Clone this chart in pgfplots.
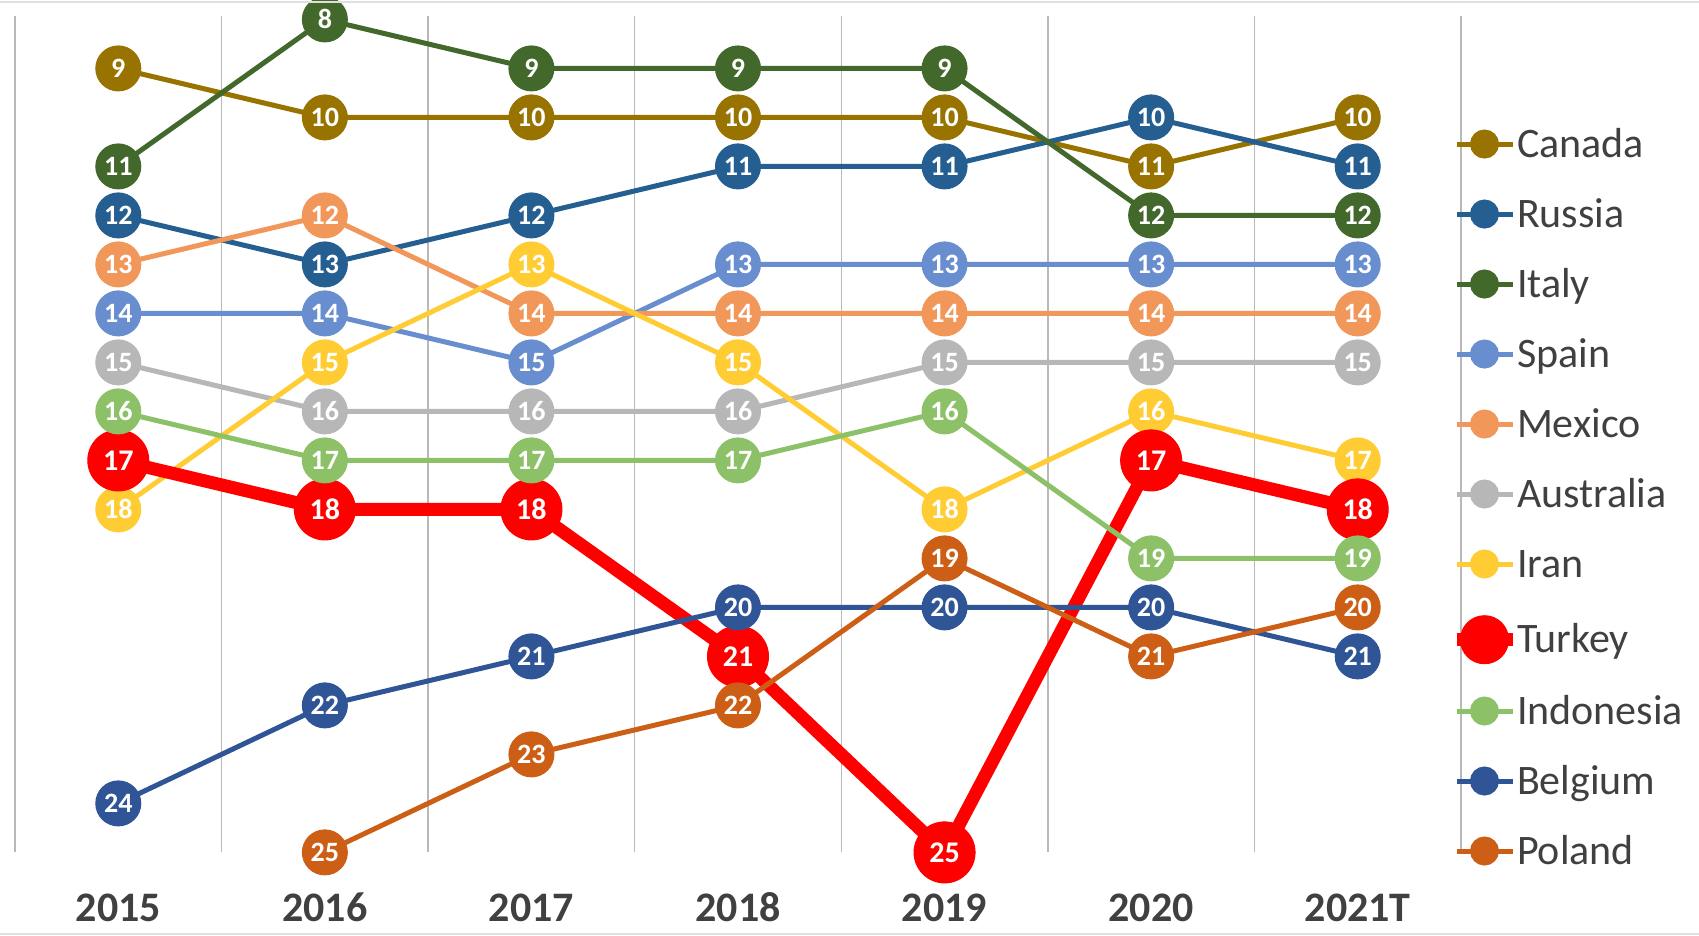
\documentclass[border=0pt]{standalone}
\usepackage{pgfplots}
\pgfplotsset{compat=1.18}
\usepackage{fontspec}
\setmainfont{Carlito}
\definecolor{cCan}{HTML}{997300}
\definecolor{cRus}{HTML}{255E91}
\definecolor{cIta}{HTML}{43682B}
\definecolor{cSpa}{HTML}{698ED0}
\definecolor{cMex}{HTML}{F1975A}
\definecolor{cAus}{HTML}{B7B7B7}
\definecolor{cIra}{HTML}{FFCD33}
\definecolor{cTur}{HTML}{FF0000}
\definecolor{cIdn}{HTML}{8CC168}
\definecolor{cBel}{HTML}{2F5597}
\definecolor{cPol}{HTML}{CC5F15}
\definecolor{txt}{HTML}{404040}
\pgfplotsset{
  rk/.style={color=#1, line width=2.5pt, mark=*, mark size=11.25pt,
    mark options={solid, line width=0.5pt, fill=#1},
    nodes near coords,
    every node near coord/.append style={anchor=center, text=white, inner sep=0pt,
      font=\fontsize{14}{15}\selectfont\bfseries},
    legend image code/.code={\draw[#1, line width=2.5pt] (0pt,6.6pt) -- (28pt,6.6pt);
      \fill[#1] (14pt,6.6pt) circle (6pt);}},
  rkbig/.style={color=#1, line width=6.5pt, mark=*, mark size=15.25pt,
    mark options={solid, line width=0.5pt, fill=#1},
    nodes near coords,
    every node near coord/.append style={anchor=center, text=white, inner sep=0pt,
      font=\fontsize{15}{17}\selectfont\bfseries},
    legend image code/.code={\draw[#1, line width=6.5pt] (0pt,6.6pt) -- (28pt,6.6pt);
      \fill[#1] (14pt,6.6pt) circle (9pt);}},
}
\begin{document}
\begin{tikzpicture}
\begin{axis}[
  scale only axis, width=723pt, height=418.2pt,
  xmin=-0.5, xmax=6.5, ymin=7.93, ymax=25, y dir=reverse,
  clip=false,
  axis line style={draw=none},
  xtick={0,...,6}, xticklabels={2015,2016,2017,2018,2019,2020,2021T},
  ytick=\empty,
  minor xtick={-0.5,0.5,...,6.5}, xminorgrids=true,
  minor grid style={draw=gray!55, line width=0.75pt},
  major tick length=0pt, minor tick length=0pt,
  xticklabel style={font=\fontsize{21}{25}\selectfont\bfseries, text=txt, anchor=center,
    text height=13.3pt, text depth=0pt, inner sep=0pt, yshift=-27.8pt},
  /pgf/number format/assume math mode=true,
  legend cell align=left,
  legend style={draw=none, fill=none, inner sep=0pt, outer sep=0pt,
    at={(axis description cs:1,1)}, anchor=north west, xshift=-5.5pt, yshift=-54.6pt,
    row sep=14pt, column sep=-1pt, font=\fontsize{21}{25}\selectfont, text=txt,
    nodes={inner sep=0pt, text height=16pt, text depth=5pt, anchor=base west}},
]
\addplot[rk=cCan] coordinates {(0,9)(1,10)(2,10)(3,10)(4,10)(5,11)(6,10)};
\addlegendentry{Canada}
\addplot[rk=cRus] coordinates {(0,12)(1,13)(2,12)(3,11)(4,11)(5,10)(6,11)};
\addlegendentry{Russia}
\addplot[rk=cIta] coordinates {(0,11)(1,8)(2,9)(3,9)(4,9)(5,12)(6,12)};
\addlegendentry{Italy}
\addplot[rk=cSpa] coordinates {(0,14)(1,14)(2,15)(3,13)(4,13)(5,13)(6,13)};
\addlegendentry{Spain}
\addplot[rk=cMex] coordinates {(0,13)(1,12)(2,14)(3,14)(4,14)(5,14)(6,14)};
\addlegendentry{Mexico}
\addplot[rk=cAus] coordinates {(0,15)(1,16)(2,16)(3,16)(4,15)(5,15)(6,15)};
\addlegendentry{Australia}
\addplot[rk=cIra] coordinates {(0,18)(1,15)(2,13)(3,15)(4,18)(5,16)(6,17)};
\addlegendentry{Iran}
\addplot[rkbig=cTur] coordinates {(0,17)(1,18)(2,18)(3,21)(4,25)(5,17)(6,18)};
\addlegendentry{Turkey}
\addplot[rk=cIdn] coordinates {(0,16)(1,17)(2,17)(3,17)(4,16)(5,19)(6,19)};
\addlegendentry{Indonesia}
\addplot[rk=cBel] coordinates {(0,24)(1,22)(2,21)(3,20)(4,20)(5,20)(6,21)};
\addlegendentry{Belgium}
\addplot[rk=cPol] coordinates {(1,25)(2,23)(3,22)(4,19)(5,21)(6,20)};
\addlegendentry{Poland}
\end{axis}
\draw[gray!25, line width=1pt] (-7.5pt,425.2pt) -- (842pt,425.2pt);
\draw[gray!25, line width=1pt] (-7.5pt,-40.8pt) -- (842pt,-40.8pt);
\pgfresetboundingbox
\path[use as bounding box] (-7.5pt,-41.8pt) rectangle (842pt,426.2pt);
\end{tikzpicture}
\end{document}
